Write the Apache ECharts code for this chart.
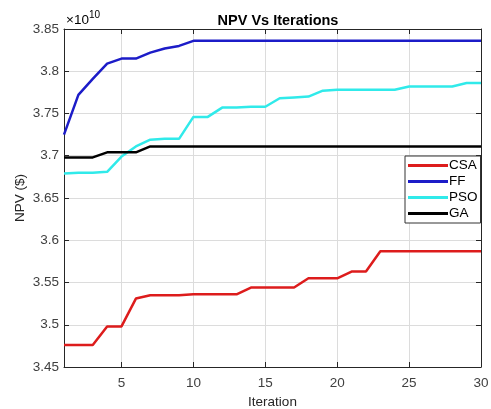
<!DOCTYPE html>
<html><head><meta charset="utf-8">
<script src="https://cdn.jsdelivr.net/npm/echarts@6/dist/echarts.min.js"></script>
<style>html,body{margin:0;padding:0;background:#fff}#c{width:491px;height:409px}</style>
</head><body><div id="c"></div>
<script>
const iterations = Array.from({length:30},(_,i)=>i+1);
const csa = [3.476,3.476,3.476,3.498,3.498,3.531,3.535,3.535,3.535,3.536,3.536,3.536,3.536,3.544,3.544,3.544,3.544,3.555,3.555,3.555,3.563,3.563,3.587,3.587,3.587,3.587,3.587,3.587,3.587,3.587];
const ff  = [3.725,3.772,3.791,3.809,3.815,3.815,3.822,3.827,3.830,3.836,3.836,3.836,3.836,3.836,3.836,3.836,3.836,3.836,3.836,3.836,3.836,3.836,3.836,3.836,3.836,3.836,3.836,3.836,3.836,3.836];
const pso = [3.679,3.680,3.680,3.681,3.699,3.711,3.719,3.720,3.720,3.746,3.746,3.757,3.757,3.758,3.758,3.768,3.769,3.770,3.777,3.778,3.778,3.778,3.778,3.778,3.782,3.782,3.782,3.782,3.786,3.786];
const ga  = [3.698,3.698,3.698,3.704,3.704,3.704,3.711,3.711,3.711,3.711,3.711,3.711,3.711,3.711,3.711,3.711,3.711,3.711,3.711,3.711,3.711,3.711,3.711,3.711,3.711,3.711,3.711,3.711,3.711,3.711];
const seriesNames = ['CSA','FF','PSO','GA'];
const seriesColors = ['#dd1c1c','#1c1cc8','#30eaea','#000000'];
const xTicks = [5,10,15,20,25,30];
const yTickLabels = ['3.45','3.5','3.55','3.6','3.65','3.7','3.75','3.8','3.85'];

const font = 'Liberation Sans, Arial, sans-serif';
const axisCol = '#262626';
const chart = echarts.init(document.getElementById('c'));
const values = [csa, ff, pso, ga];
const grid = {left:64, right:10, top:29, bottom:42, outerBoundsMode:'none', containLabel:false};
const commonAxis = {
  axisLine:{show:true,onZero:false,lineStyle:{color:axisCol,width:1}},
  axisTick:{show:true,inside:true,length:5,lineStyle:{color:axisCol}},
};
chart.setOption({
  animation:false,
  backgroundColor:'#fff',
  title:{text:'NPV Vs Iterations',left:273,textAlign:'center',top:8,
    textStyle:{fontFamily:font,fontSize:14.5,fontWeight:'bold',color:'#000'}},
  grid:grid,
  legend:{
    orient:'vertical', left:405, top:156, itemWidth:40, itemHeight:3, itemGap:1,
    icon:'rect', padding:[2,3,2,3], borderColor:'#333', borderWidth:1, backgroundColor:'#fff',
    textStyle:{fontFamily:font,fontSize:13.5,color:'#000',padding:[0,0,0,-4],lineHeight:15},
    data: seriesNames
  },
  xAxis:[{
    type:'value', min:1, max:30,
    ...commonAxis,
    axisTick:{show:true,inside:true,length:5,lineStyle:{color:axisCol},customValues:xTicks},
    axisLabel:{customValues:xTicks,color:'#404040',fontFamily:font,fontSize:13.5,margin:9},
    splitLine:{show:true,lineStyle:{color:'#dcdcdc',width:1}},
    name:'Iteration', nameLocation:'middle', nameGap:28, nameMoveOverlap:false,
    nameTextStyle:{fontFamily:font,fontSize:13.5,color:'#262626'}
  },{
    type:'value', min:1, max:30, position:'top',
    ...commonAxis,
    axisTick:{show:true,inside:true,length:5,lineStyle:{color:axisCol},customValues:xTicks},
    axisLabel:{show:false}, splitLine:{show:false}
  }],
  yAxis:[{
    type:'value', min:3.45, max:3.85, interval:0.05,
    ...commonAxis,
    axisLabel:{color:'#404040',fontFamily:font,fontSize:13.5,margin:5,
      formatter:(v)=>yTickLabels[Math.round((v-3.45)/0.05)]},
    splitLine:{show:true,lineStyle:{color:'#dcdcdc',width:1}},
    name:'NPV ($)', nameLocation:'middle', nameGap:37, nameRotate:90, nameMoveOverlap:false,
    nameTextStyle:{fontFamily:font,fontSize:13.5,color:'#262626'}
  },{
    type:'value', min:3.45, max:3.85, interval:0.05, position:'right',
    ...commonAxis, axisLabel:{show:false}, splitLine:{show:false}
  }],
  graphic:[{
    type:'text', left:66, top:10,
    style:{text:'{a|×10}{b|10}', rich:{
      a:{fontFamily:font,fontSize:13.5,color:'#404040',verticalAlign:'bottom'},
      b:{fontFamily:font,fontSize:10,color:'#404040',verticalAlign:'top',padding:[0,0,7,0]}
    }}
  }],
  series: seriesNames.map((n,i)=>({
    name:n, type:'line', showSymbol:false, symbol:'none',
    data: iterations.map((x,j)=>[x, values[i][j]]),
    lineStyle:{color:seriesColors[i],width:2.5},
    itemStyle:{color:seriesColors[i]},
    z: 3
  }))
});
</script></body></html>
